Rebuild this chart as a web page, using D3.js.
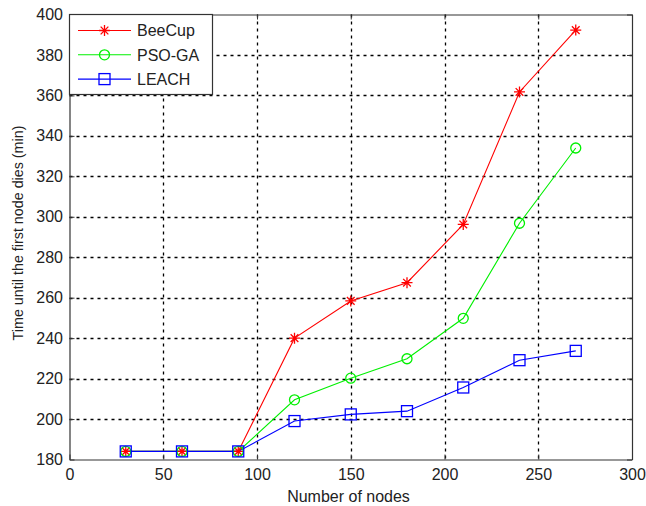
<!DOCTYPE html>
<html>
<head>
<meta charset="utf-8">
<script src="https://cdn.jsdelivr.net/npm/d3@7"></script>
<style>
  body { margin: 0; background: #fff; }
  text { font-family: Arial, "Liberation Sans", sans-serif; }
</style>
</head>
<body>
<div id="viz-wrapper"></div>
<script>
var width = 646;
var height = 506;

// data
var nodes = [30, 60, 90, 120, 150, 180, 210, 240, 270];
var beeCup = [184, 184, 184, 240, 258.4, 267.4, 296.2, 361.7, 392.3];
var psoGa = [184, 184, 184, 209.5, 220.2, 229.8, 249.8, 296.8, 334];
var leach = [184, 184, 184, 199, 202.3, 203.9, 215.6, 229.1, 233.7];
var xTicks = [0, 50, 100, 150, 200, 250, 300];
var yTicks = [180, 200, 220, 240, 260, 280, 300, 320, 340, 360, 380, 400];

var series = [
  { name: 'BeeCup', values: beeCup, color: '#ff0000', marker: 'star' },
  { name: 'PSO-GA', values: psoGa, color: '#00f000', marker: 'circle' },
  { name: 'LEACH', values: leach, color: '#0000ff', marker: 'square' }
];

// plot box edges (window.top is reserved, so other names)
var pLeft = 69.5, pRight = 632, pTop = 14.5, pBottom = 459.5;

var x = d3.scaleLinear().domain([0, 300]).range([pLeft, pRight]);
var y = d3.scaleLinear().domain([180, 400]).range([pBottom, pTop]);

var viz = d3.select('#viz-wrapper').append('svg').attr('width', width).attr('height', height);

// grid
viz.append('g').selectAll('line').data(xTicks.slice(1, -1)).enter().append('line')
  .attr('x1', function(d) { return Math.round(x(d)) + 0.5; })
  .attr('x2', function(d) { return Math.round(x(d)) + 0.5; })
  .attr('y1', pTop).attr('y2', pBottom)
  .attr('stroke', '#000').attr('stroke-width', 1.3).attr('stroke-dasharray', '3,4');

viz.append('g').selectAll('line').data(yTicks.slice(1, -1)).enter().append('line')
  .attr('y1', function(d) { return Math.round(y(d)) + 0.5; })
  .attr('y2', function(d) { return Math.round(y(d)) + 0.5; })
  .attr('x1', pLeft).attr('x2', pRight)
  .attr('stroke', '#000').attr('stroke-width', 1.3).attr('stroke-dasharray', '3,4');

// axes (ticks inside, like matlab)
var xAxis = d3.axisBottom(x).tickValues(xTicks).tickSizeInner(-5).tickSizeOuter(0).tickPadding(9);
var yAxis = d3.axisLeft(y).tickValues(yTicks).tickSizeInner(-5).tickSizeOuter(0).tickPadding(6.5);

var gx = viz.append('g').attr('transform', 'translate(0,' + pBottom + ')').call(xAxis);
var gy = viz.append('g').attr('transform', 'translate(' + pLeft + ',0)').call(yAxis);
var gx2 = viz.append('g').attr('transform', 'translate(0,' + pTop + ')')
  .call(d3.axisTop(x).tickValues(xTicks).tickSizeInner(-5).tickSizeOuter(0).tickFormat(''));
var gy2 = viz.append('g').attr('transform', 'translate(' + pRight + ',0)')
  .call(d3.axisRight(y).tickValues(yTicks).tickSizeInner(-5).tickSizeOuter(0).tickFormat(''));

[gx, gy, gx2, gy2].forEach(function(g) {
  g.select('.domain').attr('stroke', '#333').attr('stroke-width', 1.2);
  g.selectAll('.tick line').attr('stroke', '#333');
  g.selectAll('text').attr('font-size', 16).attr('fill', '#222').attr('font-family', 'Arial, "Liberation Sans", sans-serif');
});

// lines
var line = d3.line()
  .x(function(d, i) { return x(nodes[i]); })
  .y(function(d) { return y(d); });

series.forEach(function(s) {
  viz.append('path').datum(s.values)
    .attr('d', line).attr('fill', 'none')
    .attr('stroke', s.color).attr('stroke-width', 1.1);
});

function drawMarker(g, type, color, cx, cy) {
  if (type === 'star') {
    var r = 5.5;
    var d = 'M' + (cx - r) + ',' + cy + 'H' + (cx + r) +
      'M' + cx + ',' + (cy - r) + 'V' + (cy + r) +
      'M' + (cx - r * 0.7) + ',' + (cy - r * 0.7) + 'L' + (cx + r * 0.7) + ',' + (cy + r * 0.7) +
      'M' + (cx - r * 0.7) + ',' + (cy + r * 0.7) + 'L' + (cx + r * 0.7) + ',' + (cy - r * 0.7);
    g.append('path').attr('d', d).attr('stroke', color).attr('stroke-width', 1.3).attr('fill', 'none');
  } else if (type === 'circle') {
    g.append('circle').attr('cx', cx).attr('cy', cy).attr('r', 5)
      .attr('fill', 'none').attr('stroke', color).attr('stroke-width', 1.3);
  } else {
    g.append('rect').attr('x', cx - 5.5).attr('y', cy - 5.5).attr('width', 11).attr('height', 11)
      .attr('fill', 'none').attr('stroke', color).attr('stroke-width', 1.3);
  }
}

series.forEach(function(s) {
  var g = viz.append('g');
  s.values.forEach(function(v, i) {
    drawMarker(g, s.marker, s.color, x(nodes[i]), y(v));
  });
});

// legend
var legend = viz.append('g');
legend.append('rect').attr('x', pLeft).attr('y', pTop).attr('width', 143).attr('height', 80)
  .attr('fill', '#fff').attr('stroke', '#333').attr('stroke-width', 1.2);

series.forEach(function(s, i) {
  var ly = 30.5 + i * 24.3;
  legend.append('line').attr('x1', 78).attr('x2', 131).attr('y1', ly).attr('y2', ly)
    .attr('stroke', s.color).attr('stroke-width', 1.1);
  drawMarker(legend, s.marker, s.color, 104.5, ly);
  legend.append('text').attr('x', 137).attr('y', ly + 5.7).attr('font-size', 16).attr('fill', '#222').text(s.name);
});

// axis titles
viz.append('text').attr('x', 348.5).attr('y', 501.5).attr('text-anchor', 'middle')
  .attr('font-size', 16).attr('fill', '#222').text('Number of nodes');

viz.append('text').attr('transform', 'translate(22.5,233) rotate(-90)')
  .attr('text-anchor', 'middle').attr('font-size', 14.3).attr('fill', '#222')
  .text('Time until the first node dies (min)');
</script>
</body>
</html>
